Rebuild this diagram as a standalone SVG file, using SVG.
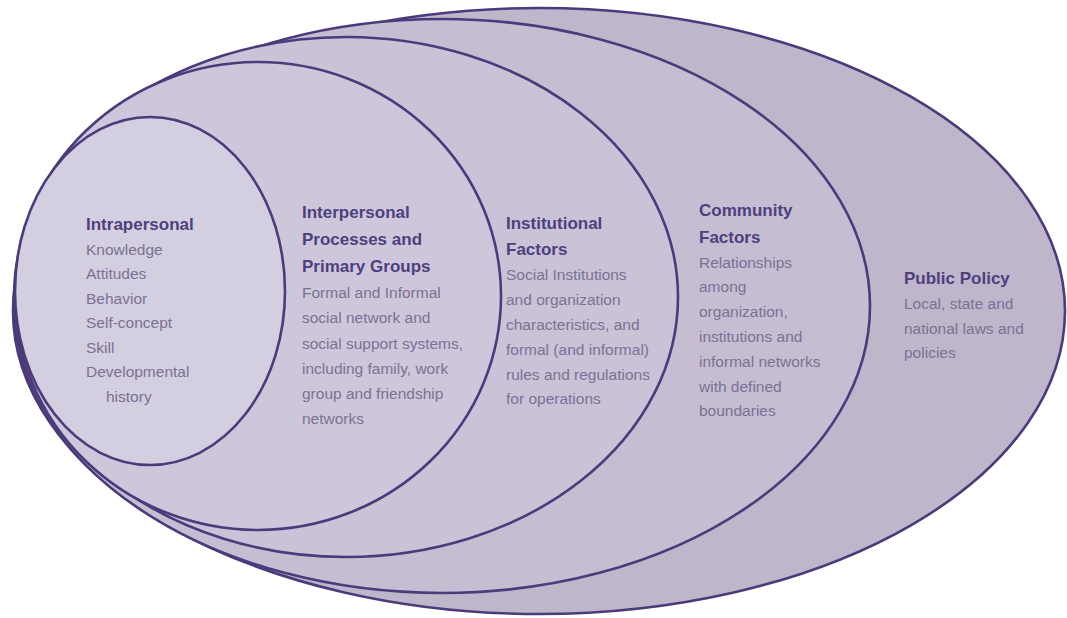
<svg xmlns="http://www.w3.org/2000/svg" width="1067" height="618" viewBox="0 0 1067 618">
<style>
.ring{stroke:#4b3b7b;stroke-width:2.6}
.t{font-family:"Liberation Sans",Arial,sans-serif;font-weight:bold;font-size:17px;fill:#4e3f7e}
.b{font-family:"Liberation Sans",Arial,sans-serif;font-size:15.5px;fill:#7b7194}
</style>
<rect width="1067" height="618" fill="#ffffff"/>
<g id="public-policy">
<ellipse class="ring" cx="539" cy="311" rx="526" ry="303" fill="#c0b6cc"/>
<text class="t" x="904" y="284">Public Policy</text>
<text class="b" x="904" y="309">Local, state and</text>
<text class="b" x="904" y="334">national laws and</text>
<text class="b" x="904" y="358">policies</text>
</g>
<g id="community">
<ellipse class="ring" cx="442" cy="306" rx="428" ry="287" fill="#c6bdd2"/>
<text class="t" x="699" y="216">Community</text>
<text class="t" x="699" y="243">Factors</text>
<text class="b" x="699" y="268">Relationships</text>
<text class="b" x="699" y="292">among</text>
<text class="b" x="699" y="317">organization,</text>
<text class="b" x="699" y="342">institutions and</text>
<text class="b" x="699" y="367">informal networks</text>
<text class="b" x="699" y="392">with defined</text>
<text class="b" x="699" y="416">boundaries</text>
</g>
<g id="institutional">
<ellipse class="ring" cx="346" cy="297" rx="332" ry="260" fill="#cac2d7"/>
<text class="t" x="506" y="229">Institutional</text>
<text class="t" x="506" y="255">Factors</text>
<text class="b" x="506" y="280">Social Institutions</text>
<text class="b" x="506" y="305">and organization</text>
<text class="b" x="506" y="330">characteristics, and</text>
<text class="b" x="506" y="355">formal (and informal)</text>
<text class="b" x="506" y="380">rules and regulations</text>
<text class="b" x="506" y="404">for operations</text>
</g>
<g id="interpersonal">
<ellipse class="ring" cx="258" cy="296" rx="243" ry="234" fill="#cec7db"/>
<text class="t" x="302" y="218">Interpersonal</text>
<text class="t" x="302" y="245">Processes and</text>
<text class="t" x="302" y="272">Primary Groups</text>
<text class="b" x="302" y="298">Formal and Informal</text>
<text class="b" x="302" y="323">social network and</text>
<text class="b" x="302" y="349">social support systems,</text>
<text class="b" x="302" y="374">including family, work</text>
<text class="b" x="302" y="399">group and friendship</text>
<text class="b" x="302" y="424">networks</text>
</g>
<g id="intrapersonal">
<ellipse class="ring" cx="150" cy="291" rx="135" ry="174" fill="#d4cfe0"/>
<text class="t" x="86" y="230">Intrapersonal</text>
<text class="b" x="86" y="255">Knowledge</text>
<text class="b" x="86" y="279">Attitudes</text>
<text class="b" x="86" y="304">Behavior</text>
<text class="b" x="86" y="328">Self-concept</text>
<text class="b" x="86" y="353">Skill</text>
<text class="b" x="86" y="377">Developmental</text>
<text class="b" x="106" y="402">history</text>
</g>
<g id="connectors"></g>
</svg>
